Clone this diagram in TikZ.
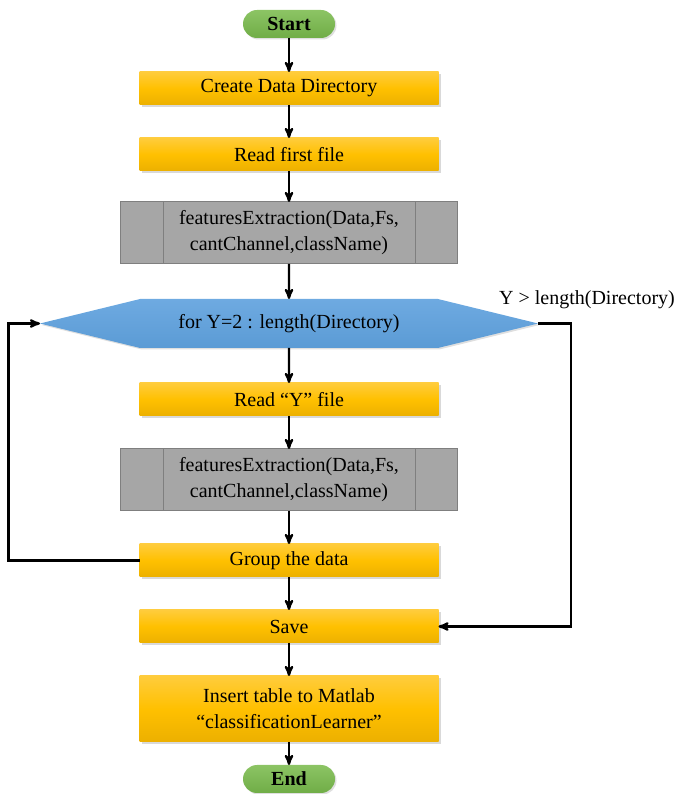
\documentclass[tikz,border=0pt]{standalone}
\usepackage{fontspec}
\setmainfont{Liberation Serif}
\usepackage{tikz}
\usetikzlibrary{arrows,positioning,shadows,shapes.symbols}

\definecolor{gold}{RGB}{255,192,0}
\definecolor{goldtop}{RGB}{255,204,60}
\definecolor{golddark}{RGB}{236,176,0}
\definecolor{leaf}{RGB}{112,173,71}
\definecolor{leaftop}{RGB}{140,196,100}
\definecolor{sky}{RGB}{91,155,213}
\definecolor{skytop}{RGB}{110,170,225}
\definecolor{stone}{RGB}{166,166,166}
\definecolor{stoneline}{RGB}{127,127,127}

\begin{document}
\begin{tikzpicture}[x=1pt,y=1pt,>=stealth',
        node distance=33pt,outer sep=0pt,
        font=\rmfamily\fontsize{20}{26}\selectfont,
        flow/.style={->,line width=2.3pt,black},
        terminal/.style={rounded corners=14pt,minimum width=92pt,minimum height=28pt,
          top color=leaftop,bottom color=leaf,font=\rmfamily\fontsize{20}{26}\selectfont\bfseries,
          drop shadow={opacity=0.25,shadow xshift=1.5pt,shadow yshift=-1.5pt},inner sep=0pt},
        process/.style={minimum width=299pt,minimum height=33pt,inner sep=0pt,
          top color=goldtop,bottom color=golddark,middle color=gold,align=center,
          drop shadow={opacity=0.3,shadow xshift=2pt,shadow yshift=-2pt}},
        subproc/.style={minimum width=337pt,minimum height=62pt,inner sep=0pt,align=center,
          fill=stone,draw=stoneline,line width=1pt},
        loopbox/.style={signal,signal to=west and east,signal pointer angle=27.5,
          minimum width=498pt,minimum height=49pt,inner sep=0pt,
          top color=skytop,bottom color=sky,
          drop shadow={opacity=0.25,shadow xshift=1.5pt,shadow yshift=-1.5pt}}]

  \useasboundingbox (0,0) rectangle (675,794);

  \node[terminal] (start) at (289,770) {Start};
  \node[process] (mkdir) [below=34pt of start] {Create Data Directory};
  \node[process] (first) [below=of mkdir] {Read first file};
  \node[subproc] (feat1) [below=31pt of first] {featuresExtraction(Data,Fs,\\cantChannel,className)};
  \node[loopbox] (loop) [below=35pt of feat1] {for Y=2 : length(Directory)};
  \node[process] (ready) [below=35pt of loop] {Read “Y” file};
  \node[subproc] (feat2) [below=of ready] {featuresExtraction(Data,Fs,\\cantChannel,className)};
  \node[process] (group) [below=of feat2] {Group the data};
  \node[process] (save) [below=of group] {Save};
  \node[process,minimum height=66pt] (insert) [below=of save] {Insert table to Matlab\\“classificationLearner”};
  \node[terminal] (stop) [below=23pt of insert] {End};

  \node[inner sep=0pt] (cond) [above=15pt of loop.east,xshift=49pt] {Y > length(Directory)};

  \draw[line width=1pt,stoneline] ([xshift=43pt]feat1.north west) -- ([xshift=43pt]feat1.south west)
        ([xshift=-42pt]feat1.north east) -- ([xshift=-42pt]feat1.south east)
        ([xshift=43pt]feat2.north west) -- ([xshift=43pt]feat2.south west)
        ([xshift=-42pt]feat2.north east) -- ([xshift=-42pt]feat2.south east);

  \draw[flow] (start) -- (mkdir);
  \draw[flow] (mkdir) -- (first);
  \draw[flow] (first) -- (feat1);
  \draw[flow] (feat1) -- (loop);
  \draw[flow] (loop) -- (ready);
  \draw[flow] (ready) -- (feat2);
  \draw[flow] (feat2) -- (group);
  \draw[flow] (group) -- (save);
  \draw[flow] (save) -- (insert);
  \draw[flow] (insert) -- (stop);
  \draw[flow] (group.west) -- ++(-131,0) |- (loop.west);
  \draw[flow] (loop.east) -- ++(33,0) |- (save.east);

\end{tikzpicture}
\end{document}
